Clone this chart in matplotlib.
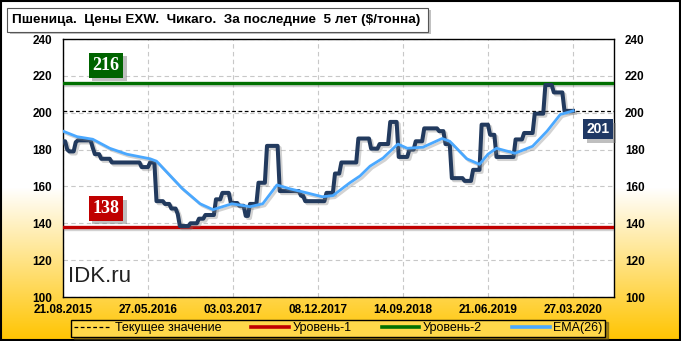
import matplotlib
matplotlib.use("Agg")
import matplotlib.pyplot as plt
import matplotlib.dates as mdates
import matplotlib.patheffects as pe
from matplotlib.patches import Rectangle
from matplotlib.lines import Line2D
from matplotlib.transforms import blended_transform_factory
import numpy as np
import pandas as pd

# weekly EXW Chicago wheat price, $/t, starting 21.08.2015
price = [
    184.5, 184.5, 180, 179, 179, 179, 184, 185, 185, 185, 185, 185, 185, 185,
    181, 177.5, 177.5, 177.5, 175, 175, 175, 175, 175,
    173, 173, 173, 173, 173, 173, 173, 173, 173, 173, 173, 173, 173, 173,
    170.5, 170.5, 170.5, 170.5, 173, 173, 173,
    152, 152, 152, 152, 150.5, 150.5, 150.5, 148, 148, 148, 145,
    138.5, 138.5, 138.5, 138.5, 138.5, 140, 140, 140, 140,
    142.5, 142.5, 142.5, 144.5, 144.5, 144.5, 144.5, 144.5,
    153, 153, 153, 156.5, 156.5, 156.5, 156.5, 151, 151, 151, 151,
    149.5, 149.5, 149.5, 144, 144, 150.5, 150.5, 150.5, 150.5,
    162, 162, 162, 162, 182, 182, 182, 182, 182, 182,
    157.5, 157.5, 157.5, 157.5, 157.5, 157.5, 157.5, 157.5, 157.5, 157.5,
    155, 155, 152, 152, 152, 152, 152, 152, 152, 152, 152, 152,
    156.5, 156.5, 156.5, 156.5, 167, 167, 167,
    173, 173, 173, 173, 173, 173, 173, 173,
    186, 186, 186, 186, 186, 186, 180.5, 180.5, 180.5, 180.5,
    183, 183, 183, 183, 183, 195, 195, 195, 195,
    176, 176, 176, 176, 176, 180, 180, 180, 184.5, 184.5, 184.5, 184.5,
    191.5, 191.5, 191.5, 191.5, 191.5, 191.5, 191.5, 190, 190, 190,
    183, 183, 183, 164.5, 164.5, 164.5, 164.5, 164.5, 164.5,
    163, 163, 163, 163, 169, 169, 169, 169,
    193.5, 193.5, 193.5, 193.5, 188, 188, 188,
    176, 176, 176, 176, 176, 176, 176, 176, 176,
    185.5, 185.5, 185.5, 185.5, 189, 189, 189, 189, 189,
    199.5, 199.5, 199.5, 199.5, 199.5, 215, 215, 215, 215,
    211, 211, 211, 211, 211, 201, 201, 201, 201, 201,
]

# EMA(26): week number -> value
ema_weeks = [0, 6.6, 14, 22, 30, 41, 44, 56, 64.5, 70.6, 79.5, 88, 94, 100.7,
             106.8, 114.8, 122, 127, 135, 139.8, 144.5, 150.6, 157.6, 162,
             169.4, 178.4, 182, 190, 196, 200, 204, 212.7, 221, 227.8, 234, 240]
ema_vals = [190, 187, 185.6, 180.7, 177.5, 175, 173.7, 159, 150.6, 147.4,
            150.6, 149, 150.6, 160.8, 158.7, 156.5, 154.4, 155, 162, 165.7,
            171, 175.4, 183, 180.7, 181.3, 186, 184.5, 175, 172, 177.5, 180.7,
            178, 181.8, 190, 199, 201]

level1 = 138
level2 = 216
current = 201

tick_labels = ["21.08.2015", "27.05.2016", "03.03.2017", "08.12.2017",
               "14.09.2018", "21.06.2019", "27.03.2020"]

start = pd.Timestamp("2015-08-21")
dates = pd.date_range(start, periods=len(price), freq="7D")
ema_dates = start + pd.to_timedelta(np.array(ema_weeks) * 7, unit="D")
tick_dates = pd.to_datetime(tick_labels, format="%d.%m.%Y")

W, H = 681, 341
fig = plt.figure(figsize=(W / 100, H / 100), dpi=100)

# background gradient: white on top, yellow at the bottom
bg = fig.add_axes([0, 0, 1, 1], zorder=-10)
t = np.linspace(0, 1, H)
k = np.clip((t - 0.55) / 0.45, 0, 1)[:, None]
top = np.array([1.0, 1.0, 1.0])
bot = np.array([1.0, 0.77, 0.0])
img = (top * (1 - k) + bot * k)[:, None, :] * np.ones((1, 2, 1))
bg.imshow(img, aspect="auto", extent=[0, 1, 0, 1])
bg.axis("off")
fig.patches.append(Rectangle((0.001, 0.002), 0.997, 0.996, transform=fig.transFigure,
                             fill=False, ec="black", lw=1.5))

# title box
def px(x, y):
    return x / W, 1 - y / H

fig.patches.append(Rectangle(px(10, 34), 421 / W, 24 / H, transform=fig.transFigure,
                             fc="#999999", ec="none", alpha=0.6))
fig.patches.append(Rectangle(px(7, 32), 421 / W, 24 / H, transform=fig.transFigure,
                             fc="white", ec="#555555", lw=0.8))
fig.text(*px(12, 20), "Пшеница.  Цены EXW.  Чикаго.  За последние  5 лет ($/тонна)",
         fontsize=9.7, fontweight="bold", family="Liberation Sans", va="center", ha="left")

ax = fig.add_axes([63 / W, 1 - 297 / H, (614 - 63) / W, (297 - 39) / H])
ax.set_facecolor("white")

shadow = [pe.SimpleLineShadow(offset=(1.5, -1.5), alpha=0.35, shadow_color="gray"), pe.Normal()]

ax.axhline(current, color="black", lw=0.9, ls=(0, (3, 2)), zorder=3)
ax.axhline(level1, color="#C00000", lw=2.4, zorder=3, path_effects=shadow)
ax.axhline(level2, color="#007000", lw=2.4, zorder=3, path_effects=shadow)
ax.plot(dates, price, color="#223A5E", lw=2.9, zorder=4, solid_joinstyle="round",
        path_effects=shadow)
ax.plot(ema_dates, ema_vals, color="#4AA8FF", lw=2.0, zorder=5, path_effects=shadow)

ax.set_ylim(100, 240)
ax.set_yticks(np.arange(100, 241, 20))
ax.set_xlim(start, start + pd.Timedelta(days=259.3 * 7))
ax.set_xticks(tick_dates)
ax.xaxis.set_major_formatter(mdates.DateFormatter("%d.%m.%Y"))
ax.grid(True, color="#C8C8C8", ls=(0, (4, 3)), lw=0.8)
ax.set_axisbelow(True)
ax.tick_params(axis="both", length=0, labelsize=8.5)
ax.tick_params(axis="y", labelleft=True, labelright=True, pad=8)
ax.tick_params(axis="x", pad=5)
for lab in ax.get_xticklabels() + ax.yaxis.get_ticklabels(which="both"):
    lab.set_fontweight("bold")
    lab.set_family("Liberation Sans")
for tk in ax.yaxis.get_major_ticks():
    tk.label2.set_fontweight("bold")
    tk.label2.set_family("Liberation Sans")
for sp in ax.spines.values():
    sp.set_color("black")
    sp.set_linewidth(1.0)

# value boxes
tr = blended_transform_factory(ax.transAxes, ax.transData)

def value_box(x, y, s, color, family, size):
    txt = ax.text(x, y, s, transform=tr, ha="center", va="center", fontsize=size,
                  fontweight="bold", family=family, color="white", zorder=7,
                  bbox=dict(boxstyle="square,pad=0.22", fc=color, ec="none"))
    txt.get_bbox_patch().set_path_effects(
        [pe.SimplePatchShadow(offset=(2.5, -2.5), shadow_rgbFace="gray", alpha=0.5), pe.Normal()])

value_box(0.078, level2 + 9.7, str(level2), "#006400", "Liberation Serif", 13)
value_box(0.078, level1 + 10, str(level1), "#C00000", "Liberation Serif", 13)
value_box(0.971, current - 10, str(current), "#1F3864", "Liberation Sans", 10)

ax.text(0.009, 0.04, "IDK.ru", transform=ax.transAxes, fontsize=16,
        family="Liberation Sans", color="#222222", ha="left", va="bottom", zorder=6)

# legend
handles = [
    Line2D([], [], color="black", lw=0.9, ls=(0, (3, 2))),
    Line2D([], [], color="#C00000", lw=2.6),
    Line2D([], [], color="#007000", lw=2.6),
    Line2D([], [], color="#4AA8FF", lw=2.6),
]
labels = ["Текущее значение", "Уровень-1", "Уровень-2", "EMA(26)"]
leg = fig.legend(handles, labels, loc="center", bbox_to_anchor=(338 / W, 1 - 328 / H),
                 ncol=4, frameon=True, fancybox=False, shadow=True,
                 handlelength=3.0, handletextpad=0.3, columnspacing=2.4,
                 borderpad=0.2, prop={"family": "Liberation Sans", "size": 9})
leg.get_frame().set_edgecolor("black")
leg.get_frame().set_facecolor("#FFD84A")
leg.get_frame().set_linewidth(1.0)

fig.savefig("out.png", dpi=100)
